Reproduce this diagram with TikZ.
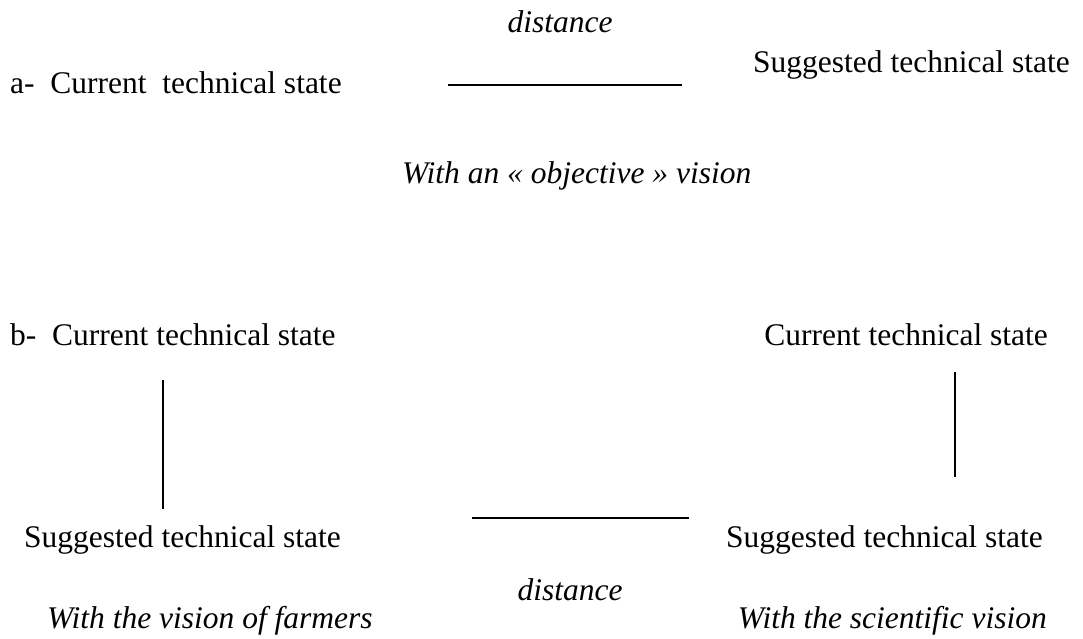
\documentclass[tikz,border=0pt]{standalone}
\usepackage{fontspec}
\setmainfont{Liberation Serif}
\begin{document}
\begin{tikzpicture}[x=1pt,y=-1pt,
  lbl/.style={inner sep=0pt,font=\fontsize{31.5}{36}\selectfont},
  ilbl/.style={lbl,font=\fontsize{31.5}{36}\selectfont\itshape},
  bar/.style={line width=1.6pt},
  vbar/.style={line width=1.3pt}]
\useasboundingbox (0,0) rectangle (1083,639);
% part a
\node[ilbl,anchor=base] (dtop) at (560,33) {distance};
\node[lbl,anchor=base west] (acur) at (10,94) {a-\ \ Current\ \ technical state};
\node[lbl,anchor=base east] (asug) at (1070,73) {Suggested technical state};
\coordinate (a1) at (448,85);
\coordinate (a2) at (682,85);
\draw[bar] (a1) -- (a2);
\node[ilbl,anchor=base west] (aobj) at (402,183) {With an « objective » vision};
% part b
\node[lbl,anchor=base west] (bcur) at (10,345) {b-\ \ Current technical state};
\node[lbl,anchor=base east] (rcur) at (1048,345) {Current technical state};
\coordinate (l1) at (163,380);
\coordinate (l2) at (163,509);
\draw[vbar] (l1) -- (l2);
\coordinate (r1) at (955,372);
\coordinate (r2) at (955,477);
\draw[vbar] (r1) -- (r2);
\node[lbl,anchor=base west] (lsug) at (24,547) {Suggested technical state};
\node[lbl,anchor=base east] (rsug) at (1043,547) {Suggested technical state};
\coordinate (b1) at (472,518);
\coordinate (b2) at (689,518);
\draw[bar] (b1) -- (b2);
\node[ilbl,anchor=base] (dbot) at (570,600) {distance};
\node[ilbl,anchor=base west] (lvis) at (47,628) {With the vision of farmers};
\node[ilbl,anchor=base east] (rvis) at (1047,628) {With the scientific vision};
\end{tikzpicture}
\end{document}
